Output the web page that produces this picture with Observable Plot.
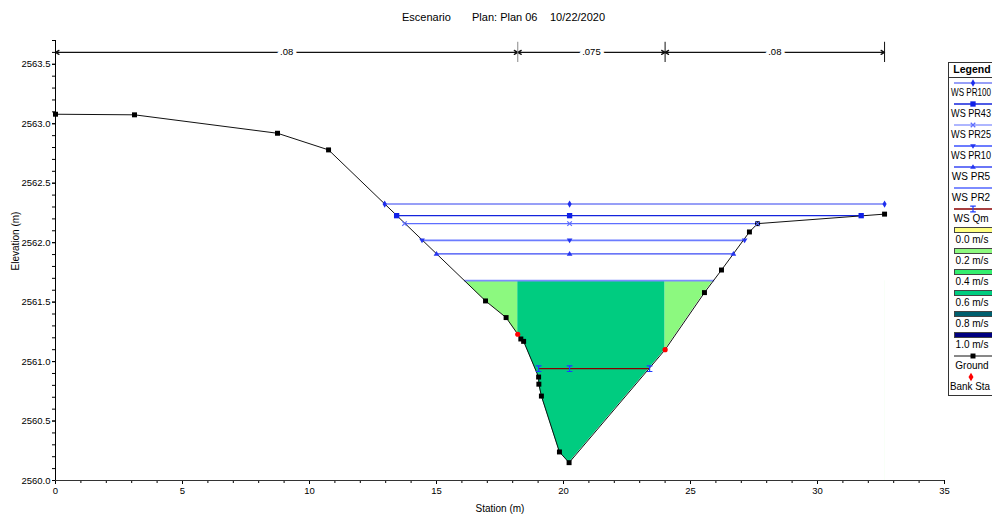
<!DOCTYPE html>
<html><head><meta charset="utf-8">
<script src="https://cdn.jsdelivr.net/npm/d3@7"></script>
<script src="https://cdn.jsdelivr.net/npm/@observablehq/plot@0.6"></script>
<style>
html,body{margin:0;padding:0;background:#fff;overflow:hidden;}
#wrap{position:relative;width:992px;height:516px;overflow:hidden;font-family:"Liberation Sans",Arial,sans-serif;color:#000;}
#title{position:absolute;left:0;top:0;width:992px;height:30px;font-size:11px;}
#title span{position:absolute;top:11px;white-space:nowrap;line-height:13px;}
#chart{position:absolute;left:0;top:30px;}
#legend{position:absolute;left:948px;top:62px;width:44px;height:334px;overflow:hidden;}
</style></head>
<body><div id="wrap"><div id="title"></div><div id="chart"></div><div id="legend"></div></div>
<script>
// ---------------- data ----------------
const titleParts = ["Escenario", "Plan: Plan 06", "10/22/2020"];

const groundStation = [0, 3.11, 8.74, 10.75, 16.93, 17.74, 18.2, 18.32, 18.43, 19.02, 19.03, 19.13, 19.84, 20.22, 24.0, 25.55, 26.22, 27.32, 27.64, 32.64];
const groundElev    = [2563.08, 2563.075, 2562.92, 2562.78, 2561.51, 2561.37, 2561.23, 2561.19, 2561.17, 2560.87, 2560.81, 2560.71, 2560.24, 2560.15, 2561.10, 2561.58, 2561.77, 2562.09, 2562.16, 2562.24];
const bankStations  = [18.2, 24.0];

const wsNames = ["WS PR100", "WS PR43", "WS PR25", "WS PR10", "WS PR5", "WS PR2", "WS Qm"];
const wsElev  = [2562.325, 2562.227, 2562.16, 2562.02, 2561.905, 2561.68, 2560.94];
const wsLeft  = [12.96, 13.43, 13.74, 14.43, 15.0, 16.09, 19.02];
const wsRight = [32.64, 31.72, 27.64, 27.13, 26.69, 25.93, 23.39];
const wsCenter = 20.24;

const velocityLabels = ["0.0 m/s", "0.2 m/s", "0.4 m/s", "0.6 m/s", "0.8 m/s", "1.0 m/s"];
const velocityColors = ["#ffff80", "#8cf97f", "#33ee6e", "#00cc80", "#005f6e", "#000080"];

const nBounds = [0, 18.2, 24.0, 32.64];
const nValues = [".08", ".075", ".08"];

const xTickValues = [0, 5, 10, 15, 20, 25, 30, 35];
const yTickValues = [2560.0, 2560.5, 2561.0, 2561.5, 2562.0, 2562.5, 2563.0, 2563.5];

// ---------------- styles ----------------
const yDomain = [2560, 2563.7];
const xDomain = [0, 35];
const nElev = 2563.6;

const ibeam = {draw(ctx, size){ const r = Math.sqrt(size/Math.PI);
  ctx.moveTo(-r,-r); ctx.lineTo(r,-r); ctx.moveTo(0,-r); ctx.lineTo(0,r); ctx.moveTo(-r,r); ctx.lineTo(r,r); }};
const triDown = {draw(ctx, size){ const r = Math.sqrt(size/Math.PI);
  ctx.moveTo(-r*1.1,-r*0.7); ctx.lineTo(r*1.1,-r*0.7); ctx.lineTo(0,r*1.1); ctx.closePath(); }};
const triUp = {draw(ctx, size){ const r = Math.sqrt(size/Math.PI);
  ctx.moveTo(-r*1.1,r*0.7); ctx.lineTo(r*1.1,r*0.7); ctx.lineTo(0,-r*1.1); ctx.closePath(); }};

const wsStyle = [
  {color:"#3040f0", width:1.1, symbol:d3.symbolDiamond, r:2.2, filled:true, mcolor:"#1f2fee"},
  {color:"#1424dc", width:1.3, symbol:d3.symbolSquare, r:3, filled:true, mcolor:"#1020e8"},
  {color:"#5e6eff", width:1.1, symbol:d3.symbolTimes, r:2.2, filled:false, mcolor:"#5e6eff"},
  {color:"#6c7cff", width:1.8, symbol:triDown, r:2.6, filled:true, mcolor:"#2636f0"},
  {color:"#3848f4", width:1.3, symbol:triUp, r:2.6, filled:true, mcolor:"#2636f0"},
  {color:"#7d8cff", width:1.8, symbol:null},
  {color:"#8b0000", width:1.3, symbol:ibeam, r:2.8, filled:false, mcolor:"#1f3cff"}
];

// ---------------- derived tables ----------------
const ground = groundStation.map((s,i)=>({station:s, elev:groundElev[i]}));
const groundSquares = ground.filter(d=>!bankStations.includes(d.station));
const banks = ground.filter(d=>bankStations.includes(d.station));
const ws = wsNames.map((n,i)=>({name:n, elev:wsElev[i], left:wsLeft[i], right:wsRight[i], style:wsStyle[i]}));
const fillLevel = wsElev[wsNames.indexOf("WS PR2")];
const zones = [
  {x1: groundStation[0], x2: bankStations[0], fill: velocityColors[1]},
  {x1: bankStations[0], x2: bankStations[1], fill: velocityColors[3]},
  {x1: bankStations[1], x2: groundStation[groundStation.length-1], fill: velocityColors[1]}
];
const nSegs = nValues.map((v,i)=>({label:v, a:nBounds[i], b:nBounds[i+1], mid:(nBounds[i]+nBounds[i+1])/2}));

// ---------------- title ----------------
const titleLeft = [402, 472, 550];
d3.select("#title").selectAll("span").data(titleParts).join("span")
  .style("left",(d,i)=>titleLeft[i]+"px").text(d=>d);

// ---------------- chart ----------------
const lineMarks = [], markerMarks = [];
ws.forEach(w=>{
  lineMarks.push(Plot.link([w], {x1:"left", x2:"right", y1:"elev", y2:"elev", stroke:w.style.color, strokeWidth:w.style.width}));
  if(!w.style.symbol) return;
  const pts = [w.left, wsCenter, w.right].map(x=>({x, y:w.elev}));
  markerMarks.push(Plot.dot(pts, {x:"x", y:"y", symbol:w.style.symbol, r:w.style.r,
    fill: w.style.filled ? w.style.mcolor : "none", stroke: w.style.filled ? "none" : w.style.mcolor, strokeWidth: 1.2}));
});

const chart = Plot.plot({
  width: 992, height: 486,
  marginLeft: 55, marginRight: 48, marginTop: 10, marginBottom: 36,
  x: {domain: xDomain},
  y: {domain: yDomain},
  style: {fontFamily: '"Liberation Sans", Arial, sans-serif', fontSize: "9.5px", background: "white", color: "#000", overflow: "visible"},
  marks: [
    Plot.rect(zones, {x1:"x1", x2:"x2", y1:()=>yDomain[0], y2:()=>fillLevel, fill:"fill"}),
    Plot.areaY(ground, {x:"station", y1:()=>yDomain[0], y2:"elev", fill:"white"}),
    ...lineMarks,
    Plot.line(ground, {x:"station", y:"elev", stroke:"#111", strokeWidth:1}),
    Plot.dot(groundSquares, {x:"station", y:"elev", symbol:"square", r:2.8, fill:"#000", stroke:"none"}),
    ...markerMarks,
    Plot.dot(banks, {x:"station", y:"elev", symbol:"circle", r:2.6, fill:"#ff0000", stroke:"none"}),
    // Manning's n band
    Plot.arrow(nSegs, {x1:"mid", x2:"a", y1:()=>nElev, y2:()=>nElev, stroke:"#111", strokeWidth:1.2, headLength:5}),
    Plot.arrow(nSegs, {x1:"mid", x2:"b", y1:()=>nElev, y2:()=>nElev, stroke:"#111", strokeWidth:1.2, headLength:5}),
    Plot.ruleX(nBounds.slice(1), {y1:nElev-0.085, y2:nElev+0.085, stroke:(d,i)=> i===0 ? "#888" : "#111", strokeWidth:1}),
    Plot.text(nSegs, {x:"mid", y:()=>nElev, text:"label", fill:"#000", stroke:"white", strokeWidth:7, fontSize:9.5}),
    // axes
    Plot.axisX({ticks: d3.range(0, 36, 1), tickSize: 3, tickFormat: ()=>"", label: null}),
    Plot.axisX({ticks: xTickValues, tickSize: 4, tickPadding: 3, tickFormat: d=>String(d), label: null}),
    Plot.axisY({ticks: d3.range(25600, 25638, 1).map(d=>d/10), tickSize: 3, tickFormat: ()=>"", label: null}),
    Plot.axisY({ticks: yTickValues, tickSize: 3, tickPadding: 2, tickFormat: d3.format(".1f"), label: null}),
    Plot.ruleX([xDomain[0]], {stroke:"#000"}),
    Plot.ruleY([yDomain[0]], {stroke:"#333", strokeWidth:1.2}),
    Plot.text(["Station (m)"], {frameAnchor:"bottom", dy:31, fontSize:10}),
    Plot.text(["Elevation (m)"], {frameAnchor:"left", dx:-40, dy:10, rotate:-90, fontSize:10})
  ]
});
document.getElementById("chart").appendChild(chart);

// ---------------- legend ----------------
const LW = 44, LH = 334, maxTextW = 40;
const lg = d3.select("#legend").append("svg").attr("width", LW).attr("height", LH)
  .style("font-family", '"Liberation Sans", Arial, sans-serif').style("font-size", "10px");
lg.append("rect").attr("x",0.5).attr("y",0.5).attr("width",LW+5).attr("height",LH-1).attr("fill","white").attr("stroke","#333");
lg.append("text").attr("x",24).attr("y",8.5).attr("text-anchor","middle").attr("dominant-baseline","middle")
  .style("font-weight","bold").style("font-size","10.5px").text("Legend");
lg.append("line").attr("x1",0).attr("x2",LW).attr("y1",15.5).attr("y2",15.5).attr("stroke","#333");
const rowLine = i => 21 + 21*i, rowText = i => 31 + 21*i;
const symPath = (sym, r) => d3.symbol(sym, Math.PI*r*r)();
function legendText(x, y, label){
  const t = lg.append("text").attr("text-anchor","middle").attr("dominant-baseline","middle").text(label);
  const w = t.node().getComputedTextLength();
  const s = w > maxTextW ? maxTextW / w : 1;
  let cx = x;
  if (w * s / 2 + cx > LW - 1) cx = LW - 1 - w * s / 2;
  t.attr("transform", `translate(${cx},${y}) scale(${s},1)`);
  return t;
}
ws.forEach((w,i)=>{
  lg.append("line").attr("x1",6).attr("x2",LW).attr("y1",rowLine(i)).attr("y2",rowLine(i))
    .attr("stroke",w.style.color).attr("stroke-width",w.style.width);
  if(w.style.symbol){
    lg.append("path").attr("d",symPath(w.style.symbol,w.style.r)).attr("transform",`translate(25,${rowLine(i)})`)
      .attr("fill", w.style.filled ? w.style.mcolor : "none").attr("stroke", w.style.filled ? "none" : w.style.mcolor).attr("stroke-width",1.2);
  }
  legendText(23, rowText(i), w.name);
});
velocityLabels.forEach((v,j)=>{
  const i = ws.length + j;
  lg.append("rect").attr("x",6.5).attr("y",rowLine(i)-2.5).attr("width",LW).attr("height",5)
    .attr("fill",velocityColors[j]).attr("stroke","#444").attr("stroke-width",1);
  legendText(24, rowText(i), v);
});
{
  const i = ws.length + velocityLabels.length;
  lg.append("line").attr("x1",6).attr("x2",LW).attr("y1",rowLine(i)).attr("y2",rowLine(i)).attr("stroke","#111");
  lg.append("path").attr("d",symPath(d3.symbolSquare,2.8)).attr("transform",`translate(25,${rowLine(i)})`).attr("fill","#000");
  legendText(24, rowText(i), "Ground");
  const k = i + 1;
  lg.append("path").attr("d",symPath(d3.symbolDiamond,2.6)).attr("transform",`translate(23,${rowLine(k)})`).attr("fill","#ff0000");
  legendText(22, rowText(k), "Bank Sta");
}
</script>
</body></html>
